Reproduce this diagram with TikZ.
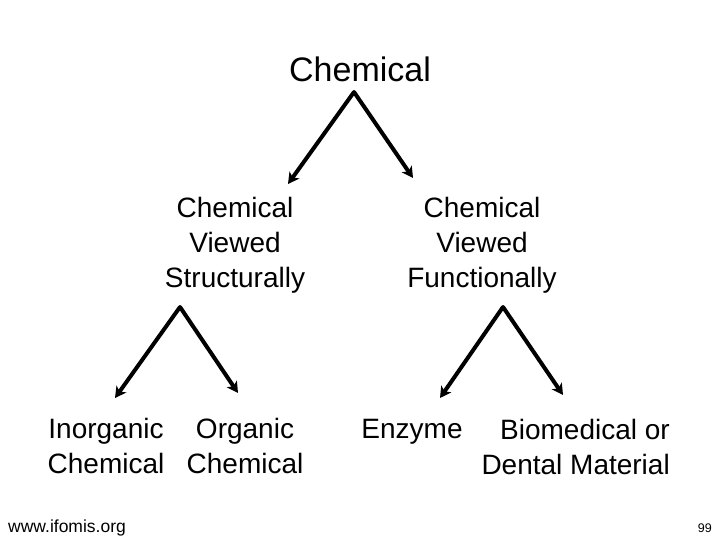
\documentclass[tikz,border=0pt]{standalone}
\usepackage{fontspec}
\setmainfont{Liberation Sans}
\usetikzlibrary{arrows.meta}

\tikzset{
    big/.style={font=\fontsize{34}{40}\selectfont, inner sep=0pt, anchor=base},
    txt/.style={font=\fontsize{28}{35}\selectfont, inner sep=0pt, align=center, anchor=base},
    pfeil/.style={line width=4pt, line join=round, {Stealth[length=11pt,width=12pt,inset=3pt]}-{Stealth[length=11pt,width=12pt,inset=3pt]}},
}

\begin{document}
\begin{tikzpicture}[x=1pt, y=-1pt]
        \useasboundingbox (0,0) rectangle (720,540);

        % Nivel 1
        \node[big] (chem) at (360, 82) {Chemical};

        % Nivel 2 (base = last line)
        \node[txt] (struct) at (235, 287) {Chemical\\Viewed\\Structurally};
        \node[txt] (funct) at (482, 287) {Chemical\\Viewed\\Functionally};

        % Nivel 3
        \node[txt] (inorg) at (106, 473) {Inorganic\\Chemical};
        \node[txt] (org) at (245, 473) {Organic\\Chemical};
        \node[txt] (enz) at (412, 438) {Enzyme};
        \node[txt, align=right, anchor=base east] (biomed) at (670, 474) {Biomedical or\\Dental Material};

        % Flechas
        \foreach \n/\ax/\ay/\lx/\ly/\rx/\ry in {
            a/354/92/288/184/413/178,
            b/180/307/115/398/238/393,
            c/503/307/440/398/563/395
            } {
            \coordinate (\n top) at (\ax, \ay);
            \coordinate (\n left) at (\lx, \ly);
            \coordinate (\n right) at (\rx, \ry);
            \draw[pfeil] (\n left) -- (\n top) -- (\n right);
        }

        % Pie
        \node[font=\fontsize{17.5}{20}\selectfont, inner sep=0pt, anchor=base west] (web) at (8, 532) {www.ifomis.org};
        \node[font=\fontsize{12.5}{15}\selectfont, inner sep=0pt, anchor=base east] (page) at (712, 532) {99};
    \end{tikzpicture}
\end{document}
